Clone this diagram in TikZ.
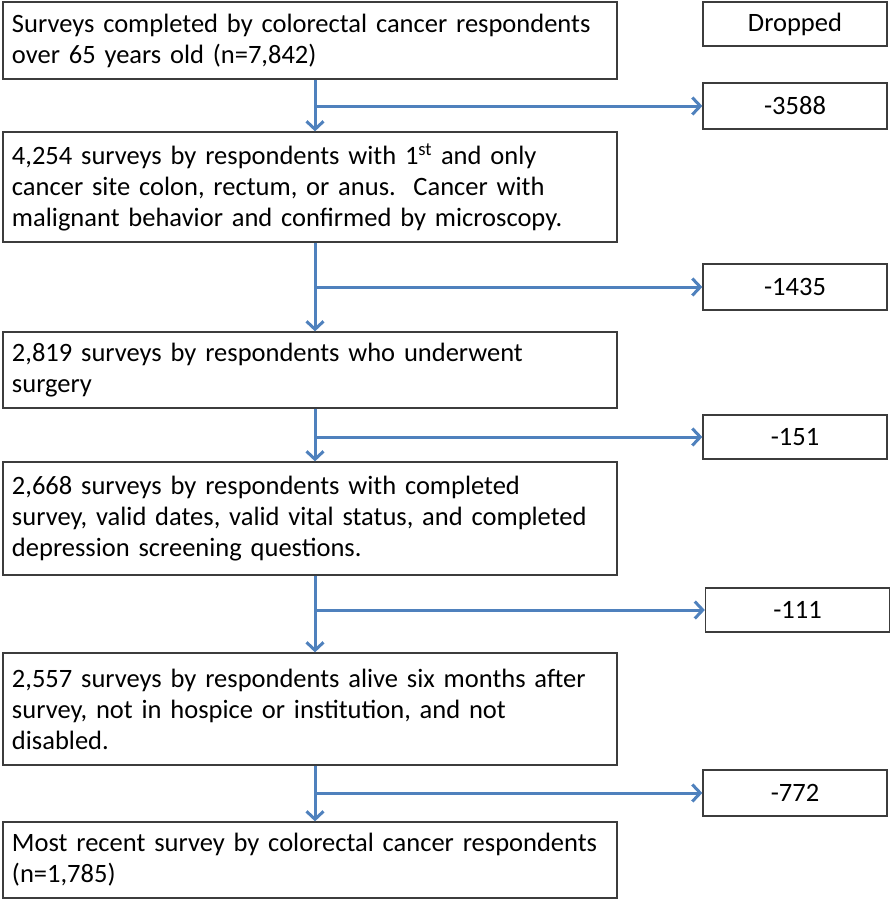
\documentclass[tikz,border=0pt]{standalone}
\usepackage{fontspec}
\setmainfont{Carlito}
\usetikzlibrary{arrows.meta}
\definecolor{flowblue}{RGB}{79,129,189}
\definecolor{boxline}{RGB}{60,60,60}
\tikzset{
  mainbox/.style={draw=boxline, line width=1.3pt, rectangle, minimum width=614pt,
    text width=596pt, inner xsep=9pt, inner ysep=0pt, align=left,
    font=\fontsize{26.5}{31}\selectfont},
  dropbox/.style={draw=boxline, line width=1.3pt, rectangle, minimum width=184pt,
    inner sep=0pt, align=center, font=\fontsize{26.5}{31}\selectfont},
  flowarrow/.style={draw=flowblue, line width=3pt,
    -{Straight Barb[length=8pt,width=17pt,line width=3pt]}}
}
\begin{document}
\begin{tikzpicture}[x=1pt,y=-1pt]
\useasboundingbox (0,0) rectangle (891,900);
% main boxes
\node[mainbox, minimum height=77pt] (B1) at (310,40.5)
  {Surveys completed by colorectal cancer respondents\\over 65 years old (n=7,842)};
\node[mainbox, minimum height=110pt] (B2) at (310,187)
  {4,254 surveys by respondents with 1\textsuperscript{st} and only\\cancer site colon, rectum, or anus.\ \ Cancer with\\malignant behavior and confirmed by microscopy.};
\node[mainbox, minimum height=76pt] (B3) at (310,370)
  {2,819 surveys by respondents who underwent\\surgery};
\node[mainbox, minimum height=113pt] (B4) at (310,518.5)
  {2,668 surveys by respondents with completed\\survey, valid dates, valid vital status, and completed\\depression screening questions.};
\node[mainbox, minimum height=112pt] (B5) at (310,709)
  {2,557 surveys by respondents alive six months after\\survey, not in hospice or institution, and not\\disabled.};
\node[mainbox, minimum height=76pt] (B6) at (310,860)
  {Most recent survey by colorectal cancer respondents\\(n=1,785)};
% dropped boxes
\node[dropbox, minimum height=44pt] (D0) at (795,24) {Dropped};
\node[dropbox, minimum height=46pt] (D1) at (795,106) {-3588};
\node[dropbox, minimum height=46pt] (D2) at (795,287) {-1435};
\node[dropbox, minimum height=44pt] (D3) at (795,437) {-151};
\node[dropbox, minimum height=44pt] (D4) at (797.5,610) {-111};
\node[dropbox, minimum height=46pt] (D5) at (795,793) {-772};
% spine coordinates
\coordinate (s1) at ([xshift=5pt]B1.south);
\coordinate (s2) at ([xshift=5pt]B2.south);
\coordinate (s3) at ([xshift=5pt]B3.south);
\coordinate (s4) at ([xshift=5pt]B4.south);
\coordinate (s5) at ([xshift=5pt]B5.south);
\coordinate (t2) at ([xshift=5pt]B2.north);
\coordinate (t3) at ([xshift=5pt]B3.north);
\coordinate (t4) at ([xshift=5pt]B4.north);
\coordinate (t5) at ([xshift=5pt]B5.north);
\coordinate (t6) at ([xshift=5pt]B6.north);
% arrows
\draw[flowarrow] (s1) -- (t2);
\draw[flowarrow] (s1 |- D1.west) -- (D1.west);
\draw[flowarrow] (s2) -- (t3);
\draw[flowarrow] (s2 |- D2.west) -- (D2.west);
\draw[flowarrow] (s3) -- (t4);
\draw[flowarrow] (s3 |- D3.west) -- (D3.west);
\draw[flowarrow] (s4) -- (t5);
\draw[flowarrow] (s4 |- D4.west) -- (D4.west);
\draw[flowarrow] (s5) -- (t6);
\draw[flowarrow] (s5 |- D5.west) -- (D5.west);
\end{tikzpicture}
\end{document}
